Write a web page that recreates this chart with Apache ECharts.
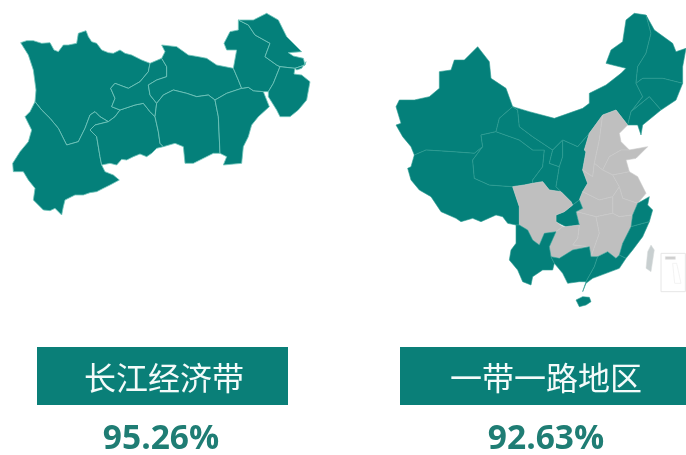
<!DOCTYPE html>
<html><head><meta charset="utf-8">
<style>html,body{margin:0;padding:0;background:#fff}#c{width:686px;height:455px}</style>
<script src="https://cdn.jsdelivr.net/npm/echarts@6/dist/echarts.min.js"></script></head>
<body><div id="c"></div>
<script>
const titles = ['长江经济带', '一带一路地区'];
const shares = ['95.26%', '92.63%'];
const beltProvinces = ['四川','云南','贵州','重庆','湖北','湖南','江西','安徽','江苏','上海','浙江'];
const roadCovered = ['新疆','西藏','青海','甘肃','内蒙古','宁夏','陕西','黑龙江','吉林','辽宁','重庆','云南','广西','广东','海南','浙江','福建'];
const roadOther = ['四川','贵州','山西','河北','山东','河南','江苏','安徽','湖北','湖南','江西','台湾'];

/* province outlines, in the maps' own units */
const beltShapes = {
 '四川':[[62,128],[80,122],[100,122],[125,130],[150,128],[162,150],[175,155],[190,135],[205,135],[230,130],[235,100],[258,92],[265,110],[275,125],[290,130],[305,150],[325,158],[340,160],[360,150],[375,160],[395,165],[425,180],[450,190],[445,215],[420,245],[385,265],[345,250],[332,265],[345,295],[335,320],[360,330],[345,350],[325,365],[300,350],[285,335],[270,345],[255,385],[235,425],[200,435],[175,385],[150,355],[125,330],[105,305],[108,270],[100,210],[85,165]],
 '云南':[[125,330],[150,355],[175,385],[200,435],[235,425],[255,385],[270,345],[285,335],[300,350],[325,365],[285,375],[270,390],[290,410],[300,470],[305,495],[315,515],[340,525],[358,540],[330,555],[310,565],[290,575],[270,578],[250,585],[225,585],[195,600],[190,620],[185,645],[165,625],[150,632],[130,630],[115,615],[100,600],[105,565],[85,540],[70,515],[40,515],[38,490],[60,455],[85,425],[95,390],[75,350],[90,335],[105,305]],
 '贵州':[[325,365],[345,350],[360,330],[405,315],[430,310],[450,335],[465,350],[475,395],[480,430],[490,440],[470,445],[455,460],[440,470],[420,462],[400,470],[380,480],[365,478],[350,495],[330,490],[305,495],[300,470],[290,410],[270,390],[285,375]],
 '重庆':[[450,190],[485,175],[500,200],[500,230],[470,240],[445,255],[450,285],[470,310],[465,350],[450,335],[430,310],[405,315],[360,330],[335,320],[345,295],[332,265],[345,250],[385,265],[420,245],[445,215]],
 '湖北':[[485,135],[530,140],[565,165],[595,170],[620,175],[650,195],[700,205],[715,240],[725,265],[680,280],[645,300],[625,285],[590,290],[560,280],[520,270],[490,285],[470,310],[450,285],[445,255],[470,240],[500,230],[500,200],[485,175],[495,155]],
 '湖南':[[470,310],[490,285],[520,270],[560,280],[590,290],[625,285],[645,300],[655,350],[660,460],[640,460],[610,475],[580,490],[555,490],[550,440],[525,430],[490,440],[480,430],[475,395],[465,350]],
 '江西':[[645,300],[680,280],[725,265],[745,262],[760,272],[790,275],[808,320],[775,350],[755,375],[745,410],[730,440],[725,490],[670,495],[680,470],[660,460],[655,350]],
 '安徽':[[715,60],[745,75],[765,105],[810,130],[795,170],[830,195],[840,200],[820,250],[805,275],[790,275],[760,272],[745,262],[725,265],[715,240],[700,205],[710,150],[680,150],[672,130],[690,95],[715,90]],
 '江苏':[[715,60],[760,60],[800,40],[835,60],[860,110],[905,155],[865,158],[880,168],[910,175],[915,195],[885,205],[840,200],[830,195],[795,170],[810,130],[765,105],[745,75]],
 '上海':[[885,205],[915,195],[918,185],[905,205],[890,210]],
 '浙江':[[840,200],[885,205],[882,222],[905,225],[930,245],[920,300],[895,330],[870,350],[840,350],[830,330],[805,290],[805,275],[820,250]]
};
const roadShapes = {
 '新疆':[[30,320],[40,300],[85,300],[130,290],[160,265],[160,215],[195,210],[205,180],[235,180],[275,140],[310,185],[315,235],[360,265],[380,320],[340,355],[330,395],[285,405],[290,440],[265,460],[200,455],[120,450],[85,465],[75,440],[50,410],[30,375],[45,370]],
 '西藏':[[85,465],[120,450],[200,455],[265,460],[290,440],[260,480],[265,535],[310,555],[380,560],[400,620],[400,675],[390,675],[365,670],[350,650],[330,645],[285,665],[260,655],[225,665],[210,655],[165,635],[135,590],[100,570],[75,540],[65,505],[75,500]],
 '青海':[[290,440],[285,405],[330,395],[400,420],[440,450],[475,450],[470,500],[440,540],[440,550],[415,555],[380,560],[310,555],[265,535],[260,480]],
 '甘肃':[[340,355],[380,320],[395,330],[400,380],[440,410],[500,450],[490,490],[520,500],[510,560],[525,575],[490,570],[470,545],[440,550],[440,540],[470,500],[475,450],[440,450],[400,420],[330,395]],
 '内蒙古':[[380,320],[430,335],[505,355],[590,325],[610,310],[610,280],[660,255],[705,220],[720,205],[680,195],[660,190],[675,150],[710,125],[720,60],[745,40],[780,45],[795,100],[780,160],[755,200],[750,250],[770,290],[735,335],[725,375],[690,330],[650,345],[610,400],[575,440],[530,420],[500,450],[440,410],[400,380],[395,330]],
 '宁夏':[[500,450],[530,420],[530,470],[520,500],[490,490]],
 '陕西':[[530,420],[575,440],[610,400],[595,450],[600,455],[590,510],[605,550],[590,575],[580,600],[560,615],[555,605],[525,575],[510,560],[520,500],[530,470]],
 '黑龙江':[[780,45],[805,90],[860,130],[870,155],[900,145],[890,200],[890,250],[830,235],[770,235],[750,250],[755,200],[780,160],[795,100]],
 '吉林':[[750,250],[770,235],[830,235],[890,250],[870,300],[825,330],[790,290],[735,335],[770,290]],
 '辽宁':[[735,335],[790,290],[825,330],[770,375],[765,405],[755,375],[725,375]],
 '山西':[[610,400],[650,345],[640,420],[625,490],[620,530],[590,510],[600,455],[595,450]],
 '河北':[[650,345],[690,330],[725,375],[700,400],[705,425],[730,450],[705,450],[670,470],[650,510],[625,490],[640,420]],
 '山东':[[705,450],[730,450],[785,440],[750,475],[720,480],[730,515],[680,525],[650,510],[670,470]],
 '河南':[[620,530],[625,490],[650,510],[680,525],[700,560],[680,590],[640,600],[590,575],[605,550],[590,510]],
 '江苏':[[730,515],[755,530],[780,580],[755,610],[710,595],[700,560],[680,525]],
 '安徽':[[700,560],[710,595],[755,610],[740,645],[700,650],[680,640],[680,590]],
 '湖北':[[580,600],[590,575],[640,600],[680,590],[680,640],[630,650],[590,640],[570,635],[590,625]],
 '湖南':[[570,635],[590,640],[630,650],[640,700],[615,770],[610,740],[560,735],[575,715],[580,675]],
 '江西':[[630,650],[680,640],[700,650],[740,645],[735,680],[710,730],[700,765],[690,775],[665,755],[635,770],[615,770],[640,700]],
 '重庆':[[580,600],[590,625],[570,635],[580,675],[540,680],[510,665],[510,645],[535,635],[560,615]],
 '四川':[[380,560],[415,555],[440,550],[470,545],[490,570],[525,575],[555,605],[560,615],[535,635],[510,645],[510,665],[530,680],[510,695],[475,700],[460,735],[440,720],[425,690],[400,675],[400,620]],
 '贵州':[[510,695],[530,680],[540,680],[580,675],[575,715],[560,735],[610,740],[560,750],[520,775],[495,770],[490,740]],
 '云南':[[400,675],[425,690],[440,720],[460,735],[475,700],[510,695],[490,740],[495,770],[505,790],[500,810],[470,810],[440,830],[435,855],[410,845],[395,810],[370,780],[375,750],[390,730],[390,675]],
 '广西':[[495,770],[520,775],[560,750],[610,740],[615,770],[635,770],[625,800],[600,845],[580,845],[545,850],[530,820],[505,790]],
 '广东':[[635,770],[665,755],[690,775],[700,765],[720,775],[700,805],[660,820],[620,835],[600,850],[590,875],[600,845],[625,800]],
 '浙江':[[755,610],[790,590],[785,615],[800,630],[790,665],[735,680],[740,645]],
 '福建':[[735,680],[790,665],[770,710],[740,750],[720,775],[700,765],[710,730]],
 '海南':[[570,900],[590,890],[610,892],[615,905],[600,915],[580,920]],
 '台湾':[[780,805],[785,755],[795,735],[805,750],[795,815]],
 '南海诸岛':[[825,760],[898,760],[898,875],[825,875]],
 '南海标题':[[838,770],[868,770],[868,778],[838,778]],
 '南海海域':[[860,790],[872,790],[885,850],[866,850]]
};

const TEAL = '#04807a', GRAY = '#bfbfbf';
function toGeo(shapes){
  return {type:'FeatureCollection',features:Object.keys(shapes).map(n=>({
    type:'Feature',properties:{name:n},
    geometry:{type:'Polygon',coordinates:[shapes[n].concat([shapes[n][0]]).map(p=>[p[0],-p[1]])]}
  }))};
}
function box(shapes,ox){
  const pts=Object.values(shapes).flat();
  const xs=pts.map(p=>p[0]),ys=pts.map(p=>p[1]);
  const x0=Math.min(...xs),x1=Math.max(...xs),y0=Math.min(...ys),y1=Math.max(...ys);
  return {left:ox+x0/3,top:y0/3,width:(x1-x0)/3,height:(y1-y0)/3};
}
echarts.registerMap('belt',toGeo(beltShapes));
echarts.registerMap('road',toGeo(roadShapes));
const chart=echarts.init(document.getElementById('c'),null,{renderer:'canvas'});
const beltStyle={areaColor:TEAL,color:TEAL,borderColor:'#74c7bd',borderWidth:0.8};
const tealStyle={areaColor:TEAL,color:TEAL,borderColor:'#2f9d94',borderWidth:0.6};
const grayStyle={areaColor:GRAY,color:GRAY,borderColor:'#c9c9c9',borderWidth:0.6};
const taiwanStyle={areaColor:'#c8cfd0',color:'#c8cfd0',borderColor:'#d8dcdc',borderWidth:0.5};
const boxStyle={areaColor:'#fff',color:'#fff',borderColor:'#e6e6e6',borderWidth:1};
const markStyle={areaColor:'#cfcfcf',color:'#cfcfcf',borderColor:'#e0e0e0',borderWidth:0.5};
const seaStyle={areaColor:'#fff',color:'#fff',borderColor:'#eeeeee',borderWidth:0.7};
function mapSeries(map,shapes,ox,data){
  return Object.assign({type:'map',map,aspectScale:1,silent:true,roam:false,selectedMode:false,
    label:{show:false},emphasis:{disabled:true},data},box(shapes,ox));
}
const bars=[{x:37,w:251},{x:400,w:286}];
const centers=[164,546];
const graphic=[];
titles.forEach((t,i)=>{
  graphic.push({type:'rect',left:bars[i].x,top:347,shape:{width:bars[i].w,height:58},style:{fill:'#0a7f78'},silent:true});
  graphic.push({type:'text',x:centers[i],y:378,style:{text:t,fill:'#f4fbfa',font:'32px "Noto Sans CJK SC"',textAlign:'center',textVerticalAlign:'middle'},silent:true});
  graphic.push({type:'text',x:i?546:161,y:439,style:{text:shares[i],fill:'#1f7d74',font:'bold 33.5px "Open Sans"',textAlign:'center',textVerticalAlign:'middle'},silent:true});
});
chart.setOption({
  animation:false,
  backgroundColor:'#fff',
  series:[
    mapSeries('belt',beltShapes,0,beltProvinces.map(n=>({name:n,value:1,itemStyle:beltStyle}))),
    mapSeries('road',roadShapes,386,[
      ...roadCovered.map(n=>({name:n,value:1,itemStyle:tealStyle})),
      ...roadOther.map(n=>({name:n,value:0,itemStyle:n==='台湾'?taiwanStyle:grayStyle})),
      {name:'南海诸岛',value:0,itemStyle:boxStyle},
      {name:'南海标题',value:0,itemStyle:markStyle},
      {name:'南海海域',value:0,itemStyle:seaStyle}
    ])
  ],
  graphic
});
</script></body></html>
